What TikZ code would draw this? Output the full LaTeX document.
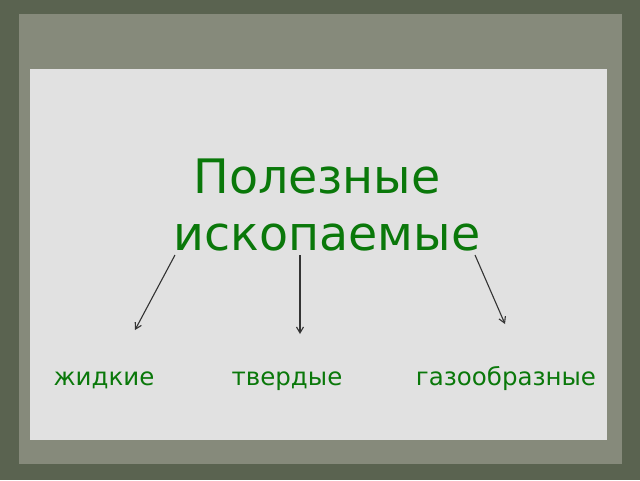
\documentclass[tikz,border=0pt]{standalone}
\usepackage{fontspec}
\setmainfont{DejaVu Sans}
\usetikzlibrary{calc}
\usetikzlibrary{positioning}
\usetikzlibrary{arrows.meta}

\definecolor{board}{HTML}{5A6350}
\definecolor{frame}{HTML}{868A7B}
\definecolor{paper}{HTML}{E1E1E1}
\definecolor{ink}{HTML}{0A780A}

\begin{document}
\begin{tikzpicture}[%
  >={Straight Barb[length=6pt,width=7pt]},
  x=1pt, y=-1pt,
  title/.style={text=ink, inner sep=0pt, anchor=base, font=\fontsize{47.5}{57}\selectfont},
  kind/.style={text=ink, inner sep=0pt, anchor=base, font=\fontsize{24.5}{30}\selectfont},
  link/.style={->, black!80, line width=1.1pt},
]

  \useasboundingbox (0,0) rectangle (640,480);

  \fill[board] (0,0) rectangle (640,480);
  \fill[frame] (19,14) rectangle (622,464);
  \fill[paper] (30,69) rectangle (607,440);

  \node[title] (name1) at (317,193) {Полезные};
  \node[title] (name2) at (327,250) {ископаемые};

  \node[kind] (liquid) at (104,385) {жидкие};
  \node[kind] (solid) at (287,385) {твердые};
  \node[kind] (gas) at (506,385) {газообразные};

  \coordinate (s1) at (175,255);
  \coordinate (e1) at (135,330);
  \coordinate (s2) at (300,255);
  \coordinate (e2) at (300,334);
  \coordinate (s3) at (475,255);
  \coordinate (e3) at (505,324);

  \draw[link] (s1) -- (e1);
  \draw[link] (s2) -- (e2);
  \draw[link] (s3) -- (e3);

\end{tikzpicture}
\end{document}
